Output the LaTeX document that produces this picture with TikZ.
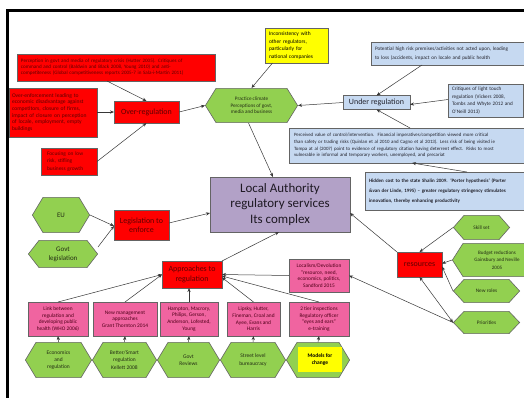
\documentclass[tikz,border=0pt]{standalone}
\usepackage{fontspec}
\setmainfont{Carlito}
\usetikzlibrary{arrows.meta,calc}

\definecolor{redfill}{RGB}{255,0,0}
\definecolor{redtext}{RGB}{95,0,0}
\definecolor{greenfill}{RGB}{146,208,80}
\definecolor{greentext}{RGB}{35,45,20}
\definecolor{bluefill}{RGB}{198,217,241}
\definecolor{bluetext}{RGB}{35,35,45}
\definecolor{pinkfill}{RGB}{240,100,160}
\definecolor{pinktext}{RGB}{80,0,25}
\definecolor{purplefill}{RGB}{178,161,199}
\definecolor{yellowfill}{RGB}{255,255,0}
\definecolor{edgegray}{RGB}{100,100,100}
\definecolor{linegray}{RGB}{55,55,55}

\newcommand\hexdepth{11bp}

\tikzset{
  box/.style={rectangle, draw=edgegray, line width=0.6bp, inner sep=2bp, outer sep=0pt},
  redbox/.style={box, fill=redfill, text=redtext},
  bluebox/.style={box, fill=bluefill, text=bluetext},
  pinkbox/.style={box, fill=pinkfill, text=pinktext, align=center,
    font=\fontsize{5.4}{6.7}\selectfont},
  yellowbox/.style={box, fill=yellowfill, text=black},
  hexnode/.style={rectangle, inner sep=1bp, outer sep=0pt, align=center, text=greentext,
    path picture={
      \draw[draw=edgegray, line width=0.6bp, fill=greenfill]
        let \p1=(path picture bounding box.south west),
            \p2=(path picture bounding box.north east) in
        (\x1+0.4bp, {0.5*(\y1+\y2)}) -- (\x1+\hexdepth, \y2-0.4bp)
        -- (\x2-\hexdepth, \y2-0.4bp) -- (\x2-0.4bp, {0.5*(\y1+\y2)})
        -- (\x2-\hexdepth, \y1+0.4bp) -- (\x1+\hexdepth, \y1+0.4bp) -- cycle;
    }},
  fsmall/.style={font=\fontsize{5.3}{7}\selectfont},
  fbig/.style={font=\fontsize{8}{9.3}\selectfont},
  conn/.style={draw=linegray, line width=0.5bp, -{Stealth[length=4bp,width=3.2bp]}},
  conn2/.style={draw=linegray, line width=0.5bp, {Stealth[length=4bp,width=3.2bp]}-{Stealth[length=4bp,width=3.2bp]}},
}

\begin{document}
\begin{tikzpicture}[x=1bp, y=-1bp]
\useasboundingbox (0,0) rectangle (524,397);
\fill[white] (0,0) rectangle (524,397);
\clip (0,0) rectangle (524,397);

% frame
\draw[line width=2.6bp, black] (7.5,400) -- (7.5,10.5) -- (530,10.5);

% ---------- over-regulation cluster ----------
\node[redbox, minimum width=198bp, minimum height=27bp, text width=190bp, align=left,
      font=\fontsize{5.1}{6}\selectfont] (perc) at (116,67.5)
  {Perception in govt and media of regulatory crisis (Hutter 2005). Critiques of\\
   command and control (Baldwin and Black 2008, Young 2010) and anti-\\
   competiteness (Global competitiveness reports 2005-7 in Sala-i-Martin 2011)};

\node[redbox, minimum width=88bp, minimum height=49bp, text width=82bp, align=left,
      font=\fontsize{5.6}{6.7}\selectfont] (overenf) at (53,112.5)
  {Over-enforcement leading to\\economic disadvantage against\\competitors, closure of firms,\\
   impact of closure on perception\\of locale, employment, empty\\buildings};

\node[redbox, minimum width=65bp, minimum height=22bp, fbig] (overreg) at (146.5,112)
  {Over-regulation};

\node[redbox, minimum width=56bp, minimum height=27bp, text width=44bp, align=left,
      font=\fontsize{5.4}{7.3}\selectfont] (focus) at (69,161.5)
  {Focusing on low\\risk, stifling\\business growth};

\node[hexnode, minimum width=93bp, minimum height=35bp,
      font=\fontsize{5.2}{6.7}\selectfont] (practice) at (251.5,105.5)
  {Practice climate\\Perceptions of govt,\\media and business};

\node[yellowbox, minimum width=63bp, minimum height=35bp, text width=55bp, align=left,
      font=\fontsize{5.5}{7.5}\selectfont] (incons) at (296.5,45.5)
  {Inconsistency with\\other regulators,\\particularly for\\national companies};

% ---------- under-regulation cluster ----------
\node[bluebox, minimum width=67bp, minimum height=14bp, inner sep=0.5bp, fbig] (underreg) at (376.5,102.5)
  {Under regulation};

\node[bluebox, minimum width=200bp, minimum height=23bp, text width=192bp, align=left,
      font=\fontsize{5.2}{8.3}\selectfont] (potential) at (471,53.5)
  {Potential high risk premises/activities not acted upon, leading\\
   to loss (accidents, impact on locale and public health};

\node[bluebox, minimum width=75bp, minimum height=33bp, text width=67bp, align=left,
      font=\fontsize{5.2}{7.5}\selectfont] (critiques) at (485.5,100.5)
  {Critiques of light touch\\regulation (Vickers 2008,\\Tombs and Whyte 2012 and\\O'Neill 2013)};

\node[bluebox, minimum width=270bp, minimum height=35bp, text width=260bp, align=left,
      font=\fontsize{4.9}{6.7}\selectfont] (perceived) at (424,145.5)
  {Perceived value of control/intervention.\ \ Financial imperatives/competition viewed more critical\\
   than safety or trading risks (Quinlan et al 2010 and Cagno et al 2013). Less risk of being visited ie\\
   Tompa at al (2007) point to evidence of regulatory citation having deterrent effect.\ \ Risks to most\\
   vulnerable ie informal and temporary workers, unemployed, and precariat};

\node[bluebox, minimum width=200bp, minimum height=38bp, text width=192bp, align=left,
      font=\bfseries\fontsize{5}{10}\selectfont] (hidden) at (465,191)
  {Hidden cost to the state Shalin 2009. `Porter hypothesis' (Porter\\
   \&van der Linde, 1995) -- greater regulatory stringency stimulates\\
   innovation, thereby enhancing productivity};

% ---------- central node ----------
\node[box, fill=purplefill, text={rgb,255:red,30;green,25;blue,35}, minimum width=140bp,
      minimum height=55bp, align=center, font=\fontsize{13}{16}\selectfont] (la) at (280,204.5)
  {Local Authority\\regulatory services\\Its complex};

% ---------- legislation ----------
\node[hexnode, minimum width=58bp, minimum height=36bp, font=\fontsize{7}{9}\selectfont] (eu) at (61,215) {EU};
\node[hexnode, minimum width=70bp, minimum height=28bp, font=\fontsize{7}{9}\selectfont] (govtleg) at (63,254)
  {Govt\\legislation};
\node[redbox, minimum width=55bp, minimum height=30bp, align=center,
      font=\fontsize{8}{9}\selectfont] (legis) at (141.5,225) {Legislation to\\enforce};

% ---------- approaches ----------
\node[redbox, minimum width=60bp, minimum height=27bp, align=center,
      font=\fontsize{8}{9.3}\selectfont] (approaches) at (192,274.5) {Approaches to\\regulation};

\node[pinkbox, minimum width=60bp, minimum height=33bp] (localism) at (319,275.5)
  {Localism/Devolution\\"resource, need,\\economics, politics,\\Sandford 2015};

\node[pinkbox, minimum width=60bp, minimum height=34bp] (link) at (58,319)
  {Link between\\regulation and\\developing public\\health (WHO 2006)};
\node[pinkbox, minimum width=64bp, minimum height=34bp] (newmgmt) at (125,319)
  {New management\\approaches\\Grant Thornton 2014};
\node[pinkbox, minimum width=58bp, minimum height=34bp] (hampton) at (189,319)
  {Hampton, Macrory,\\Philips, Gerson,\\Anderson, Lofested,\\Young};
\node[pinkbox, minimum width=53bp, minimum height=34bp] (lipsky) at (253.5,319)
  {Lipsky, Hutter,\\Fineman, Croal and\\Ayee, Evans and\\Harris};
\node[pinkbox, minimum width=60bp, minimum height=34bp] (twotier) at (319,319)
  {2 tier inspections\\Regulatory officer\\``eyes and ears''\\e-training};

\node[hexnode, minimum width=67bp, minimum height=36bp, font=\fontsize{5.5}{7.2}\selectfont] (econ) at (58.5,360)
  {Economics\\and\\regulation};
\node[hexnode, minimum width=65bp, minimum height=36bp, font=\fontsize{5.5}{7.2}\selectfont] (better) at (124.5,360)
  {Better/Smart\\regulation\\Kellett 2008};
\node[hexnode, minimum width=63bp, minimum height=36bp, font=\fontsize{5.5}{7.2}\selectfont] (govtrev) at (188.5,360)
  {Govt\\Reviews};
\node[hexnode, minimum width=66bp, minimum height=36bp, font=\fontsize{5.5}{7.2}\selectfont] (street) at (253,360)
  {Street level\\bureaucracy};
\node[hexnode, minimum width=64bp, minimum height=36bp] (models) at (318,360) {};
\node[rectangle, fill=yellowfill, minimum width=44bp, minimum height=25bp, align=center,
      font=\bfseries\fontsize{5.5}{7.2}\selectfont] (modelsbox) at (320,359.5) {Models for\\change};

% ---------- resources ----------
\node[redbox, minimum width=45bp, minimum height=25bp, fbig] (resources) at (419.5,264.5) {resources};
\node[hexnode, minimum width=57bp, minimum height=25bp, fsmall] (skill) at (481.5,227.5) {Skill set};
\node[hexnode, minimum width=90bp, minimum height=34bp, font=\fontsize{5.1}{7.3}\selectfont] (budget) at (497,260)
  {Budget reductions\\Gainsbury and Neville\\2005};
\node[hexnode, minimum width=67bp, minimum height=24bp, fsmall] (newroles) at (486.5,291) {New roles};
\node[hexnode, minimum width=67bp, minimum height=23bp, fsmall] (priorities) at (486.5,322.5) {Priorities};

% ---------- connectors ----------
\draw[conn] ([xshift=-9bp]perc.south) -- (overreg.north);
\draw[conn] (overenf.east |- overreg.west) -- (overreg.west);
\draw[conn] (focus.east) -- (overreg.south);
\draw[conn] (overreg.east) -- (practice.west);
\draw[conn] ([xshift=-24bp]incons.south) -- (practice.north);
\draw[conn] (underreg.west) -- (practice.east);
\draw[conn] ([xshift=-49bp]potential.south) -- (underreg.north);
\draw[conn] ([yshift=1bp]critiques.west) -- ([yshift=-2bp]underreg.east);
\draw[conn] ([xshift=-14bp]perceived.north) -- (underreg.south);
\draw[conn] ([xshift=2bp]hidden.north) -- ([xshift=-12bp]perceived.south);
\draw[conn] ([xshift=-3bp]practice.south) -- ([xshift=-7bp]la.north);

\draw[conn] ([yshift=2bp]legis.east) -- ([yshift=-8.5bp]la.west);
\draw[conn] (eu.east) -- ([yshift=-1bp]legis.west);
\draw[conn] ([yshift=7bp]govtleg.east) -- ([yshift=-1bp]legis.west);

\draw[conn] (approaches.north east) -- ([xshift=-1bp]la.south);
\draw[conn] (resources.north west) -- ([yshift=-8.5bp]la.east);

\draw[conn] (skill.west) -- (resources.north);
\draw[conn] (budget.west) -- ([yshift=1bp]resources.east);
\draw[conn] (newroles.west) -- ([yshift=-2bp]resources.east);
\draw[conn2] (resources.south) -- (priorities.west);
\draw[conn] (priorities.west) -- (localism.east);

\draw[conn] (link.north) -- (approaches.west);
\draw[conn] (newmgmt.north) -- (approaches.west);
\draw[conn] (hampton.north) -- (hampton.north |- approaches.south);
\draw[conn] (lipsky.north) -- ([yshift=-3bp]approaches.east);
\draw[conn] (localism.west) -- (approaches.east);
\draw[conn] (twotier.north) -- ([yshift=-1.5bp]approaches.east);

\draw[conn] (econ.north) -- (link.south);
\draw[conn] (better.north) -- (newmgmt.south);
\draw[conn] (govtrev.north) -- (hampton.south);
\draw[conn] (street.north) -- (lipsky.south);
\draw[conn] (models.north) -- (twotier.south);
\end{tikzpicture}
\end{document}
